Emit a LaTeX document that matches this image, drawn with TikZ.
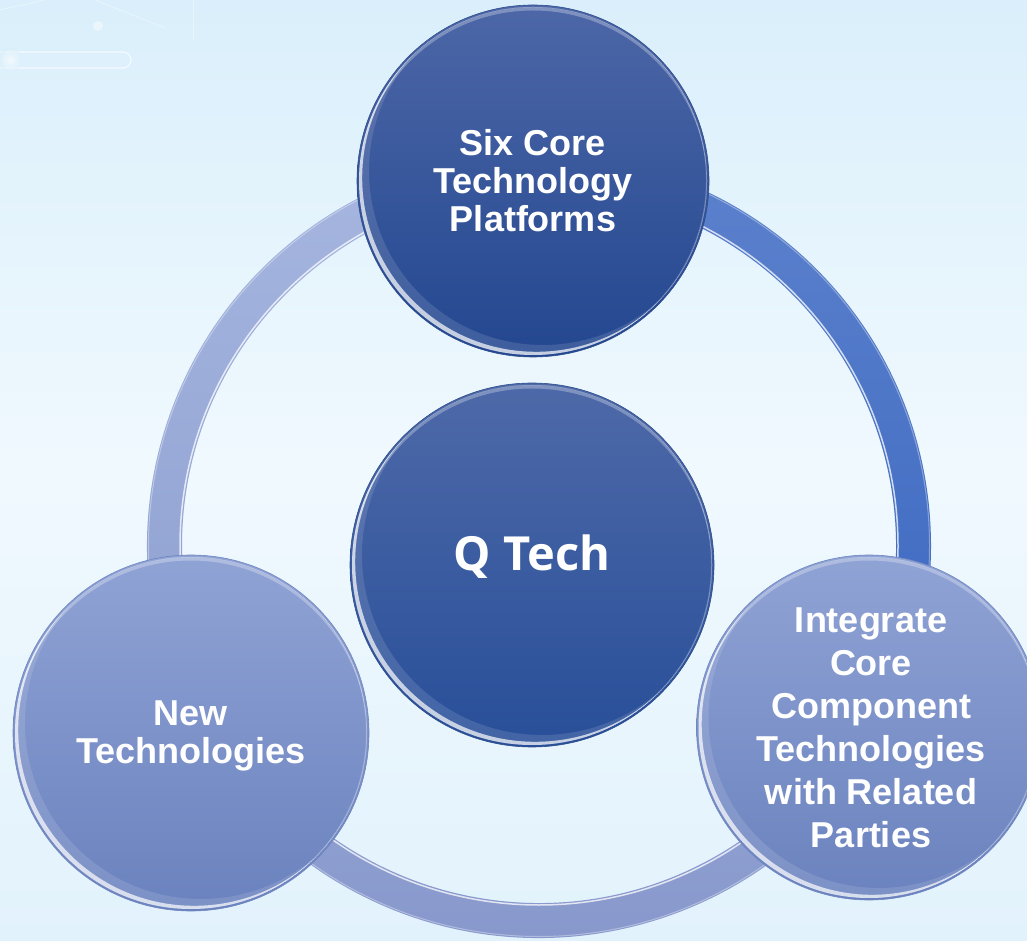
\documentclass[tikz,border=0pt]{standalone}
\usepackage{fontspec}
\setmainfont{Liberation Sans}
\newfontfamily\qfont{Open Sans}
\usetikzlibrary{calc}
\definecolor{bgtop}{HTML}{DAEFFB}
\definecolor{bgmid}{HTML}{F0F9FE}
\definecolor{bgbot}{HTML}{E2F2FC}
\definecolor{darktop}{HTML}{4D67A7}
\definecolor{darkbot}{HTML}{234790}
\definecolor{midtop}{HTML}{4E69A8}
\definecolor{midbot}{HTML}{284F99}
\definecolor{darkedge}{HTML}{2E4E8E}
\definecolor{lighttop}{HTML}{90A3D5}
\definecolor{lightbot}{HTML}{6A82BE}
\definecolor{lightedge}{HTML}{6F86C2}
\definecolor{arcRtop}{HTML}{5D82CD}
\definecolor{arcRbot}{HTML}{3A67C0}
\definecolor{arcLtop}{HTML}{A6B6E0}
\definecolor{arcLbot}{HTML}{8D9FD0}
\definecolor{arcBtop}{HTML}{93A4D4}
\definecolor{arcBbot}{HTML}{8595CA}
\newcommand{\rimglint}[2]{%
  \begin{scope}
    \clip (#1.center) circle[radius=#2-2];
    \fill[white,opacity=.12,even odd rule] (#1.center) circle[radius=#2-2] ($(#1.center)+(10,10)$) circle[radius=#2-2];
    \fill[white,opacity=.7,even odd rule] (#1.center) circle[radius=#2-2] ($(#1.center)+(3.2,3.2)$) circle[radius=#2-2];
    \fill[white,opacity=.28,even odd rule] (#1.center) circle[radius=#2-2] ($(#1.center)+(0,-3.5)$) circle[radius=#2-2];
    \fill[white,opacity=.25,even odd rule] (#1.center) circle[radius=#2-1] ($(#1.center)+(-2,0.5)$) circle[radius=#2-1];
  \end{scope}%
}
\begin{document}
\begin{tikzpicture}[x=1pt,y=1pt,
  darkball/.style={circle,inner sep=0,top color=darktop,bottom color=darkbot,draw=darkedge,line width=.6},
  lightball/.style={circle,inner sep=0,top color=lighttop,bottom color=lightbot,draw=lightedge,line width=.6},
  lbl/.style={text=white,font=\bfseries\fontsize{36}{38}\selectfont,align=center,inner sep=0,text depth=0pt},
  ringedge/.style={white,line width=1.5,opacity=.75}]
\useasboundingbox (0,0) rectangle (1027,940);
\shade[top color=bgtop,bottom color=bgbot,middle color=bgmid] (0,0) rectangle (1027,940);
% faint decoration top-left
\draw[white,opacity=.7,line width=1.2,rounded corners=8] (-10,872) rectangle (131,888);
\shade[inner color=white,outer color=bgtop,opacity=.6] (10,880) circle[radius=12];
\draw[white,opacity=.4,line width=.8] (0,930) -- (45,940);
\draw[white,opacity=.4,line width=.8] (95,940) -- (165,912);
\draw[white,opacity=.4,line width=.8] (193,940) -- (193,900);
\fill[white,opacity=.45] (98,914) circle[radius=5];
% ring
\coordinate (C) at (539,394);
\shade[top color=arcRtop,bottom color=arcRbot] ($(C)+(91:392)$) arc[start angle=91,end angle=-28.8,radius=392] -- ($(C)+(-28.8:357)$) arc[start angle=-28.8,end angle=91,radius=357] -- cycle;
\shade[top color=arcBtop,bottom color=arcBbot] ($(C)+(-28.8:392)$) arc[start angle=-28.8,end angle=-151.7,radius=392] -- ($(C)+(-151.7:357)$) arc[start angle=-151.7,end angle=-28.8,radius=357] -- cycle;
\shade[top color=arcLtop,bottom color=arcLbot] ($(C)+(208.3:392)$) arc[start angle=208.3,end angle=91,radius=392] -- ($(C)+(91:357)$) arc[start angle=91,end angle=208.3,radius=357] -- cycle;
\draw[ringedge] (C) circle[radius=359];
\draw[white,opacity=.35,line width=1] (C) circle[radius=390.5];
% circles
\node[darkball,minimum size=352] (top) at (533,759) {};
\node[darkball,minimum size=364,top color=midtop,bottom color=midbot] (mid) at (532,375) {};
\node[lightball,minimum size=356] (left) at (191,207) {};
\node[lightball,minimum size=345] (right) at (869,212.5) {};
\rimglint{top}{176}
\rimglint{mid}{182}
\rimglint{left}{178}
\rimglint{right}{172.5}
% labels
\node[lbl] (toptext) at (533,759.5) {Six Core\\Technology\\Platforms};
\node[lbl] (lefttext) at (191,207.5) {New\\Technologies};
\node[lbl,font=\bfseries\fontsize{36}{43}\selectfont] (righttext) at (871,212) {Integrate\\Core\\Component\\Technologies\\with Related\\Parties};
\node[text=white,font=\qfont\bfseries\fontsize{47}{50}\selectfont,inner sep=0,text depth=0pt] (midtext) at (532,387.5) {Q Tech};
\end{tikzpicture}
\end{document}
